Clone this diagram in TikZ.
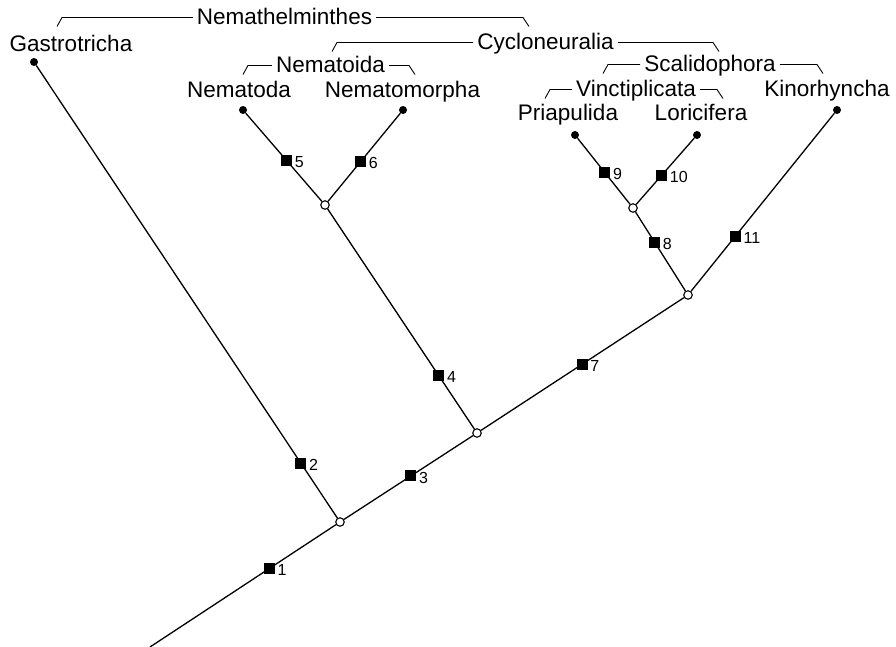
\documentclass[tikz,border=0pt]{standalone}
\usepackage{fontspec}
\setmainfont{Liberation Sans}
\begin{document}
\begin{tikzpicture}[x=1pt,y=-1pt,
  taxon/.style={font=\fontsize{22.5}{27}\selectfont, inner sep=0pt, anchor=base, text height=15pt, text depth=0pt},
  num/.style={font=\fontsize{16}{19}\selectfont, inner sep=0pt},
  br/.style={line width=0.9pt},
  edge/.style={line width=1.3pt},
  junc/.style={circle, draw, fill=white, line width=1.1pt, minimum size=8.5pt, inner sep=0pt},
  tip/.style={circle, fill, minimum size=8pt, inner sep=0pt},
  sq/.style={rectangle, fill, minimum size=11pt, inner sep=0pt},
  nl/.style={label={[num,label distance=1.5pt,yshift=-1.5pt]right:#1}}
]
\useasboundingbox (0,0) rectangle (896,647);

% junctions and tips
\coordinate (R) at (150,647);
\node[junc] (A) at (340,522) {};
\node[junc] (B) at (477,433) {};
\node[junc] (C) at (325,205) {};
\node[junc] (D) at (688,295) {};
\node[junc] (E) at (633,208) {};
\node[tip] (tG) at (34,62) {};
\node[tip] (tN1) at (243,110) {};
\node[tip] (tN2) at (403,110) {};
\node[tip] (tP) at (575,135) {};
\node[tip] (tL) at (697,135) {};
\node[tip] (tK) at (837,110) {};

% edges with character squares
\draw[edge] (R) -- node[sq,pos=.642,nl=1] (s1) {} (A);
\draw[edge] (A) -- node[sq,pos=.121,nl=2] (s2) {} (tG);
\draw[edge] (A) -- node[sq,pos=.518,nl=3] (s3) {} (B);
\draw[edge] (B) -- node[sq,pos=.243,nl=4] (s4) {} (C);
\draw[edge] (C) -- node[sq,pos=.463,nl=5] (s5) {} (tN1);
\draw[edge] (C) -- node[sq,pos=.449,nl=6] (s6) {} (tN2);
\draw[edge] (B) -- node[sq,pos=.498,nl=7] (s7) {} (D);
\draw[edge] (D) -- node[sq,pos=.618,nl=8] (s8) {} (E);
\draw[edge] (E) -- node[sq,pos=.483,nl=9] (s9) {} (tP);
\draw[edge] (E) -- node[sq,pos=.4375,nl=10] (s10) {} (tL);
\draw[edge] (D) -- node[sq,pos=.309,nl=11] (s11) {} (tK);

% taxon names
\node[taxon] (gastro) at (71,52) {Gastrotricha};
\node[taxon] (nematoda) at (239,98) {Nematoda};
\node[taxon] (nematomorpha) at (402.5,98) {Nematomorpha};
\node[taxon] (priap) at (568,121) {Priapulida};
\node[taxon] (loric) at (701,121) {Loricifera};
\node[taxon] (kino) at (827,97) {Kinorhyncha};

% group names
\node[taxon] (nemath) at (284.5,25) {Nemathelminthes};
\node[taxon] (cyclo) at (545.5,50) {Cycloneuralia};
\node[taxon] (nematoida) at (330.5,73) {Nematoida};
\node[taxon] (scalido) at (710,72) {Scalidophora};
\node[taxon] (vinct) at (636,97) {Vinctiplicata};

% bracket ends
\coordinate (nemL) at (62,0);   \coordinate (nemR) at (523,0);
\coordinate (cycL) at (337,0);  \coordinate (cycR) at (713,0);
\coordinate (ntdL) at (248,0);  \coordinate (ntdR) at (409,0);
\coordinate (scaL) at (608,0);  \coordinate (scaR) at (817,0);
\coordinate (vinL) at (550,0);  \coordinate (vinR) at (717,0);

\foreach \g/\L/\Rr in {nemath/nemL/nemR, cyclo/cycL/cycR, nematoida/ntdL/ntdR, scalido/scaL/scaR, vinct/vinL/vinR}{
  \draw[br] ([xshift=-4pt]\g.west) -- (\g.west -| \L) -- ++(-5,9);
  \draw[br] ([xshift=4pt]\g.east) -- (\g.east -| \Rr) -- ++(6,9);
}
\end{tikzpicture}
\end{document}
